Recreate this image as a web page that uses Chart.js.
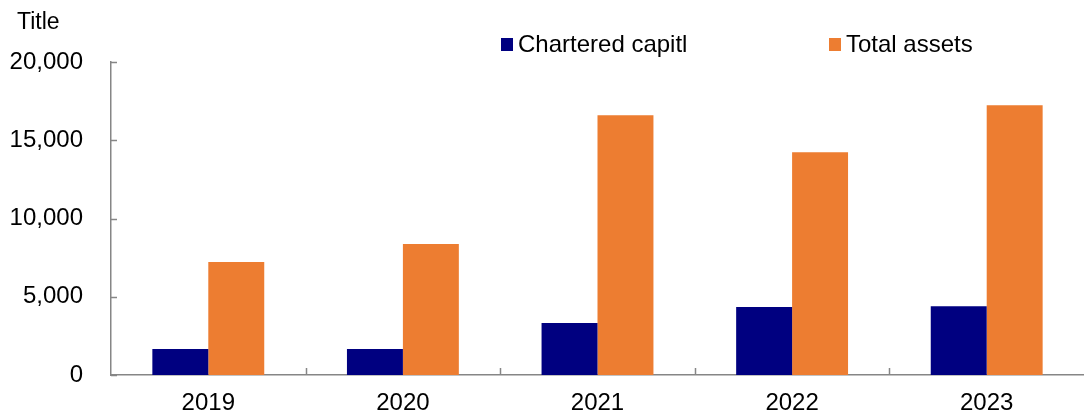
<!DOCTYPE html>
<html>
<head>
<meta charset="utf-8">
<script src="https://cdn.jsdelivr.net/npm/chart.js@4.4.1/dist/chart.umd.min.js"></script>
<style>
  html, body { margin: 0; padding: 0; background: #fff; }
  #wrap { position: relative; width: 1084px; height: 414px; font-family: "Liberation Sans", Arial, sans-serif; color: #000; }
  #chart { position: absolute; left: 0; top: 0; }
  .ttl { position: absolute; left: 17px; top: 8px; font-size: 23px; }
  .leg { position: absolute; top: 30px; font-size: 24px; display: flex; align-items: center; white-space: nowrap; }
  .leg i { display: inline-block; width: 12px; height: 13px; margin-right: 5px; }
</style>
</head>
<body>
<div id="wrap">
  <canvas id="chart" width="1084" height="414"></canvas>
  <div class="ttl">Title</div>
  <div class="leg" id="leg0" style="left:501px"></div>
  <div class="leg" id="leg1" style="left:829px"></div>
</div>
<script>
const years = ['2019', '2020', '2021', '2022', '2023'];
const charteredCapital = [1660, 1660, 3320, 4350, 4390];
const totalAssets = [7220, 8370, 16600, 14230, 17230];
const seriesNames = ['Chartered capitl', 'Total assets'];
const seriesColors = ['#000080', '#ED7D31'];
const yTicks = [0, 5000, 10000, 15000, 20000];

const AXIS = '#868686';

// short tick marks that point into the plot area
const innerTicks = {
  id: 'innerTicks',
  afterDatasetsDraw(chart) {
    const { ctx, scales: { x, y }, chartArea } = chart;
    ctx.save();
    ctx.strokeStyle = AXIS;
    ctx.lineWidth = 1.5;
    ctx.beginPath();
    yTicks.forEach(v => {
      const py = Math.round(y.getPixelForValue(v)) + 0.5;
      ctx.moveTo(chartArea.left, py);
      ctx.lineTo(chartArea.left + 6, py);
    });
    for (let i = 0; i < years.length - 1; i++) {
      const px = Math.round((x.getPixelForTick(i) + x.getPixelForTick(i + 1)) / 2) + 0.5;
      ctx.moveTo(px, chartArea.bottom);
      ctx.lineTo(px, chartArea.bottom - 7);
    }
    ctx.stroke();
    ctx.restore();
  }
};

new Chart(document.getElementById('chart'), {
  type: 'bar',
  data: {
    labels: years,
    datasets: [
      { label: seriesNames[0], data: charteredCapital, backgroundColor: seriesColors[0] },
      { label: seriesNames[1], data: totalAssets, backgroundColor: seriesColors[1] }
    ]
  },
  options: {
    responsive: false,
    animation: false,
    devicePixelRatio: 1,
    layout: { padding: { top: 62, left: 0, right: 0, bottom: 0 } },
    plugins: { legend: { display: false }, tooltip: { enabled: false }, title: { display: false } },
    datasets: { bar: { categoryPercentage: 0.575, barPercentage: 1 } },
    scales: {
      x: {
        grid: { display: false, drawTicks: false },
        border: { color: AXIS, width: 1.5 },
        ticks: { color: '#000', padding: 14, font: { family: '"Liberation Sans", Arial', size: 24 } },
        afterFit(scale) { scale.height = 39; }
      },
      y: {
        min: 0,
        max: 20000,
        grid: { display: false, drawTicks: false },
        border: { color: AXIS, width: 1.5 },
        afterBuildTicks(scale) { scale.ticks = yTicks.map(v => ({ value: v })); },
        ticks: {
          color: '#000',
          padding: 28,
          font: { family: '"Liberation Sans", Arial', size: 24 },
          callback: (value) => value.toLocaleString('en-US')
        },
        afterFit(scale) {
          scale.width = 111;
          scale.paddingTop = 0;
          scale.paddingBottom = 0;
        }
      }
    }
  },
  plugins: [innerTicks]
});

seriesNames.forEach((name, i) => {
  const el = document.getElementById('leg' + i);
  el.innerHTML = `<i style="background:${seriesColors[i]}"></i><span>${name}</span>`;
});
</script>
</body>
</html>
